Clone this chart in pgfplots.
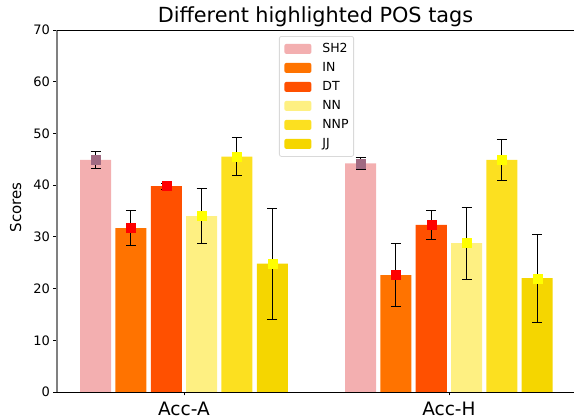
\documentclass[border=0pt]{standalone}
\usepackage{fontspec}
\setmainfont{DejaVu Sans}
\usepackage{pgfplots}
\pgfplotsset{compat=1.18}

\definecolor{cSH}{RGB}{243,175,176}
\definecolor{cIN}{RGB}{255,115,0}
\definecolor{cDT}{RGB}{255,80,0}
\definecolor{cNN}{RGB}{254,240,130}
\definecolor{cNNP}{RGB}{252,224,32}
\definecolor{cJJ}{RGB}{245,214,0}
\definecolor{mSH}{RGB}{160,106,130}
\definecolor{mRed}{RGB}{255,0,0}
\definecolor{mYel}{RGB}{255,255,0}

\pgfplotsset{
  mybar/.style={ybar, bar width=0.117, bar shift=0pt, fill=#1, draw=none,
    legend image code/.code={\fill[#1] (0pt,-5pt) rectangle (27pt,5pt);}},
  mymark/.style={only marks, mark=square*, mark size=4.5pt,
    mark options={fill=#1, draw=#1}, forget plot,
    error bars/.cd, y dir=both, y explicit, error mark=|,
    error bar style={black, line width=0.9pt},
    error mark options={black, mark size=5pt, line width=0.9pt}},
}

\begin{document}
\begin{tikzpicture}
\useasboundingbox (-57pt,-28pt) rectangle (517pt,392pt);
\begin{axis}[
  at={(0pt,0pt)}, anchor=south west,
  scale only axis, width=517pt, height=362pt,
  xmin=-0.479, xmax=1.472, ymin=0, ymax=70,
  ytick={0,10,...,70},
  xtick={0,1}, xticklabels={Acc-A, Acc-H},
  axis y line*=left, axis x line*=bottom,
  y axis line style={draw=gray, line width=1.6pt},
  x axis line style={draw=black, line width=0.8pt},
  tick align=outside, major tick length=3.5pt,
  tick style={black, line width=0.8pt},
  /pgf/number format/assume math mode=true,
  yticklabel style={font=\fontsize{13}{15}\selectfont},
  xticklabel style={font=\fontsize{18.5}{21}\selectfont, yshift=-3pt},
  ylabel={\fontsize{15}{18}\selectfont Scores},
  ylabel style={at={(axis description cs:-0.08,0.51)}, anchor=center},
  title={Different highlighted POS tags},
  title style={font=\fontsize{20.8}{24}\selectfont, at={(0.5,1)}, anchor=base, yshift=1pt},
  clip=false,
  legend cell align=left,
  legend style={at={(0.4294,0.9834)}, anchor=north west,
    draw=black!15, rounded corners=2pt, line width=0.8pt,
    font=\fontsize{12.5}{14}\selectfont,
    inner xsep=5pt, inner ysep=7pt,
    row sep=8pt,
    nodes={inner sep=0pt, text height=9pt, text depth=2pt},
    /tikz/every odd column/.append style={column sep=11pt}},
]
% bars
\addplot[mybar=cSH]  coordinates {(-0.3333,44.9) (0.6667,44.2)};
\addplot[mybar=cIN]  coordinates {(-0.2000,31.7) (0.8000,22.6)};
\addplot[mybar=cDT]  coordinates {(-0.0667,39.8) (0.9333,32.3)};
\addplot[mybar=cNN]  coordinates {(0.0667,34.0) (1.0667,28.8)};
\addplot[mybar=cNNP] coordinates {(0.2000,45.5) (1.2000,44.9)};
\addplot[mybar=cJJ]  coordinates {(0.3333,24.8) (1.3333,22.0)};
\legend{SH2, IN, DT, NN, NNP, JJ}
% means with error bars
\addplot[mymark=mSH]  coordinates {(-0.3333,44.9) +- (0,1.7) (0.6667,44.2) +- (0,1.1)};
\addplot[mymark=mRed] coordinates {(-0.2000,31.7) +- (0,3.4) (0.8000,22.6) +- (0,6.1)};
\addplot[mymark=mRed] coordinates {(-0.0667,39.8) +- (0,0.6) (0.9333,32.3) +- (0,2.85)};
\addplot[mymark=mYel] coordinates {(0.0667,34.0) +- (0,5.35) (1.0667,28.8) +- (0,6.95)};
\addplot[mymark=mYel] coordinates {(0.2000,45.5) +- (0,3.7) (1.2000,44.9) +- (0,4.0)};
\addplot[mymark=mYel] coordinates {(0.3333,24.8) +- (0,10.7) (1.3333,22.0) +- (0,8.55)};
\draw[black, line width=0.8pt] (rel axis cs:0,1) -- (rel axis cs:1,1);
\end{axis}
\end{tikzpicture}
\end{document}
